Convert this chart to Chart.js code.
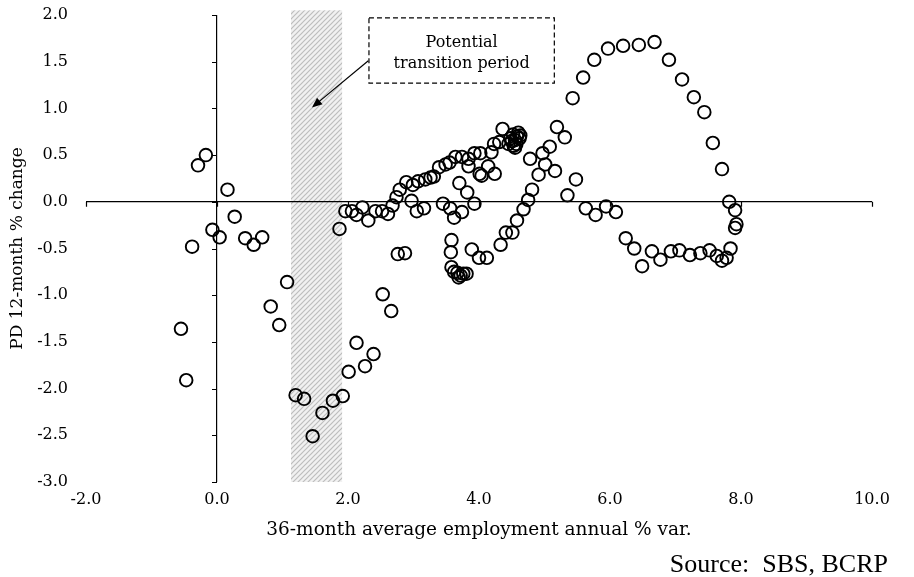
<!DOCTYPE html>
<html>
<head>
<meta charset="utf-8">
<script src="https://cdn.jsdelivr.net/npm/chart.js@4/dist/chart.umd.min.js"></script>
<style>
html, body { margin: 0; padding: 0; background: #fff; }
</style>
</head>
<body>
<canvas id="chart" width="914" height="577"></canvas>
<script>
// 36-month average employment annual % var. (x) vs PD 12-month % change (y)
const employmentVar = [
  -0.17, -0.29, 0.16, 0.27, -0.07, 0.04, 0.43, 0.56, 0.69, -0.38, 1.07, 0.82, 0.95, -0.55, -0.47,
  1.20, 1.33, 1.46, 1.61, 1.77, 1.92, 2.01, 2.26, 2.39, 2.13, 2.53, 2.66, 1.87, 2.76, 2.87,
  1.96, 2.06, 2.13, 2.22, 2.31, 2.42, 2.52, 2.61, 2.68, 2.74, 2.79, 2.89, 2.97, 3.05, 3.16,
  2.99, 3.07, 3.18, 3.26, 3.31, 3.39, 3.49, 3.55, 3.64, 3.74, 3.84, 3.84, 3.93, 4.02, 4.04,
  4.01, 4.14, 4.19, 4.24, 4.23, 4.31, 4.36,
  4.45, 4.48, 4.52, 4.55, 4.58, 4.60, 4.62, 4.57, 4.50, 4.63, 4.55, 4.53,
  3.70, 3.82, 3.93, 3.45, 3.56, 3.62, 3.74, 3.58, 3.57, 3.58, 3.62, 3.67, 3.72, 3.76, 3.81, 3.69,
  3.89, 4.00, 4.12, 4.33, 4.41, 4.51, 4.58, 4.68, 4.75, 4.81, 4.91, 4.78, 5.01, 4.97, 5.08,
  5.19, 5.31, 5.16, 5.48, 5.35, 5.63, 5.78, 5.94, 6.09, 6.24, 6.37, 6.49, 6.64, 6.77, 6.93,
  7.06, 7.22, 7.38, 7.52, 7.63, 7.71, 7.78, 7.84, 7.91, 7.93, 7.91, 7.82, 7.71, 7.57, 7.44,
  7.28, 7.10, 6.90, 6.68, 6.44, 6.20, 5.97, 5.76, 5.59, 5.43
];
const pdChange = [
  0.50, 0.39, 0.13, -0.16, -0.30, -0.38, -0.39, -0.46, -0.38, -0.48, -0.86, -1.12, -1.32, -1.36, -1.91,
  -2.07, -2.11, -2.51, -2.26, -2.13, -2.08, -1.82, -1.76, -1.63, -1.51, -0.99, -1.17, -0.29, -0.56, -0.55,
  -0.10, -0.10, -0.14, -0.06, -0.20, -0.10, -0.10, -0.13, -0.04, 0.05, 0.13, 0.21, 0.01, -0.10, -0.07,
  0.18, 0.22, 0.24, 0.26, 0.27, 0.37, 0.40, 0.42, 0.48, 0.48, 0.38, 0.46, 0.52, 0.52, 0.28,
  0.30, 0.38, 0.53, 0.30, 0.62, 0.64, 0.78,
  0.62, 0.68, 0.72, 0.66, 0.70, 0.74, 0.68, 0.62, 0.65, 0.71, 0.58, 0.60,
  0.20, 0.10, -0.02, -0.02, -0.07, -0.17, -0.11, -0.41, -0.54, -0.70, -0.75, -0.76, -0.79, -0.77, -0.77, -0.81,
  -0.51, -0.60, -0.60, -0.46, -0.33, -0.33, -0.20, -0.08, 0.02, 0.13, 0.29, 0.46, 0.40, 0.52, 0.59,
  0.80, 0.69, 0.33, 0.24, 0.07, -0.07, -0.14, -0.05, -0.11, -0.39, -0.50, -0.69, -0.53, -0.62, -0.53,
  -0.52, -0.57, -0.55, -0.52, -0.58, -0.63, -0.60, -0.50, -0.28, -0.24, -0.09, 0.00, 0.35, 0.63, 0.96,
  1.12, 1.31, 1.52, 1.71, 1.68, 1.67, 1.64, 1.52, 1.33, 1.11
];

// shaded "potential transition period" band and its note
const bandStart = 1.13;
const bandEnd = 1.91;
const noteLines = ['Potential', 'transition period'];
const sourceText = 'Source:  SBS, BCRP';

const serif = '"DejaVu Serif", serif';

function stripes(ctx) {
  const c = document.createElement('canvas');
  const s = 5;
  c.width = s; c.height = s;
  const p = c.getContext('2d');
  p.fillStyle = '#f1f1f1';
  p.fillRect(0, 0, s, s);
  p.strokeStyle = '#bdbdbd';
  p.lineWidth = 1.2;
  p.beginPath();
  p.moveTo(0, s); p.lineTo(s, 0);
  p.moveTo(-1, 1); p.lineTo(1, -1);
  p.moveTo(s - 1, s + 1); p.lineTo(s + 1, s - 1);
  p.stroke();
  return ctx.createPattern(c, 'repeat');
}

const extras = {
  id: 'extras',
  beforeDraw(chart) {
    const { ctx, scales: { x, y } } = chart;
    const l = x.getPixelForValue(bandStart), r = x.getPixelForValue(bandEnd);
    const t = y.getPixelForValue(2.05), b = y.getPixelForValue(-3);
    ctx.save();
    ctx.fillStyle = stripes(ctx);
    ctx.fillRect(l, t, r - l, b - t);
    ctx.restore();
  },
  afterDraw(chart) {
    const { ctx, scales: { x, y } } = chart;
    const x0 = x.getPixelForValue(0), y0 = y.getPixelForValue(0);
    ctx.save();
    ctx.strokeStyle = '#000';
    ctx.lineWidth = 1.2;
    ctx.beginPath();
    y.ticks.forEach(t => {
      const py = Math.round(y.getPixelForValue(t.value)) + 0.5;
      ctx.moveTo(x0 - 5, py); ctx.lineTo(x0, py);
    });
    x.ticks.forEach(t => {
      const px = Math.round(x.getPixelForValue(t.value)) + 0.5;
      ctx.moveTo(px, y0); ctx.lineTo(px, y0 + 5);
    });
    ctx.stroke();

    // note box
    const bl = x.getPixelForValue(2.32), br = x.getPixelForValue(5.15);
    const bt = y.getPixelForValue(1.97), bb = y.getPixelForValue(1.27);
    ctx.setLineDash([5, 3]);
    ctx.lineWidth = 1.2;
    ctx.strokeRect(bl, bt, br - bl, bb - bt);
    ctx.setLineDash([]);
    ctx.fillStyle = '#000';
    ctx.font = '16px ' + serif;
    ctx.textAlign = 'center';
    ctx.textBaseline = 'middle';
    const cx = (bl + br) / 2;
    ctx.fillText(noteLines[0], cx, bt + 25);
    ctx.fillText(noteLines[1], cx, bt + 46);

    // arrow
    const ax1 = x.getPixelForValue(2.31), ay1 = y.getPixelForValue(1.51);
    const ax2 = x.getPixelForValue(1.45), ay2 = y.getPixelForValue(1.01);
    const ang = Math.atan2(ay2 - ay1, ax2 - ax1);
    ctx.lineWidth = 1.2;
    ctx.beginPath();
    ctx.moveTo(ax1, ay1);
    ctx.lineTo(ax2 - 6 * Math.cos(ang), ay2 - 6 * Math.sin(ang));
    ctx.stroke();
    ctx.beginPath();
    ctx.moveTo(ax2, ay2);
    ctx.lineTo(ax2 - 11 * Math.cos(ang - 0.4), ay2 - 11 * Math.sin(ang - 0.4));
    ctx.lineTo(ax2 - 11 * Math.cos(ang + 0.4), ay2 - 11 * Math.sin(ang + 0.4));
    ctx.closePath();
    ctx.fill();

    // source
    ctx.font = '26px "Liberation Serif", serif';
    ctx.textAlign = 'right';
    ctx.textBaseline = 'alphabetic';
    ctx.fillText(sourceText, 888, 572);
    ctx.restore();
  }
};

const zeroLine = c => (c.tick && c.tick.value === 0 ? '#000' : 'rgba(0,0,0,0)');

new Chart(document.getElementById('chart'), {
  type: 'scatter',
  data: {
    datasets: [{
      data: employmentVar.map((v, i) => ({ x: v, y: pdChange[i] })),
      pointStyle: 'circle',
      pointRadius: 6.3,
      pointHoverRadius: 6.3,
      pointBorderWidth: 1.9,
      borderColor: '#000',
      backgroundColor: 'rgba(0,0,0,0)'
    }]
  },
  options: {
    responsive: false,
    animation: false,
    devicePixelRatio: 1,
    layout: { padding: { top: 15, right: 42, bottom: 0, left: 0 } },
    plugins: { legend: { display: false }, tooltip: { enabled: false } },
    scales: {
      x: {
        type: 'linear',
        min: -2, max: 10,
        border: { display: false },
        grid: { color: zeroLine, lineWidth: 1.2, drawTicks: true, tickLength: 8, tickColor: 'rgba(0,0,0,0)' },
        ticks: {
          stepSize: 2, padding: 0, color: '#000',
          font: { family: serif, size: 16 },
          callback: v => v.toFixed(1)
        },
        title: {
          display: true, text: '36-month average employment annual % var.',
          color: '#000', font: { family: serif, size: 18.5 },
          padding: { top: 0, bottom: 36 }
        },
        afterFit: s => { s.height = 95; }
      },
      y: {
        type: 'linear',
        min: -3, max: 2,
        border: { display: false },
        grid: { color: zeroLine, lineWidth: 1.2, drawTicks: true, tickLength: 18, tickColor: 'rgba(0,0,0,0)' },
        ticks: {
          stepSize: 0.5, padding: 0, color: '#000',
          font: { family: serif, size: 16 },
          callback: v => v.toFixed(1)
        },
        title: {
          display: true, text: 'PD 12-month % change',
          color: '#000', font: { family: serif, size: 17 },
          padding: { top: 7, bottom: 0 }
        },
        afterFit: s => { s.width = 86; }
      }
    }
  },
  plugins: [extras]
});
</script>
</body>
</html>
